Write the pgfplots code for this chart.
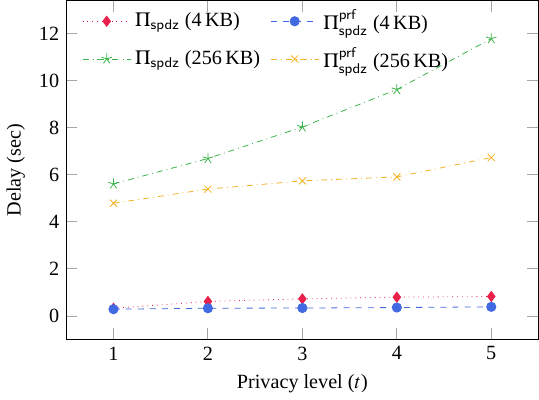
\documentclass[border=0pt]{standalone}
\usepackage{mathptmx}
\usepackage{pgfplots}
\pgfplotsset{compat=1.18}
\usepackage[no-math]{fontspec}
\setmainfont{Liberation Serif}
\setsansfont{TeX Gyre Heros}
\definecolor{cred}{HTML}{E8204A}
\definecolor{cblue}{HTML}{4169E1}
\definecolor{cgreen}{HTML}{3CB44B}
\definecolor{corange}{HTML}{F4B324}
\begin{document}
\begin{tikzpicture}
\begin{axis}[
  scale only axis,
  width=234pt, height=168pt,
  xmin=0.5, xmax=5.5, ymin=-1, ymax=13.4,
  xtick={1,2,3,4,5}, ytick={0,2,4,6,8,10,12},
  major tick length=5.5pt,
  tick style={gray!70, line width=0.5pt},
  /pgf/number format/assume math mode=true,
  xlabel={Privacy level ($t$)}, ylabel={Delay (sec)},
  legend columns=2,
  legend style={draw=none, fill=none, at={(0.02,0.997)}, anchor=north west,
    row sep=3.5pt,
    /tikz/every even column/.append style={column sep=3pt}},
  legend cell align=left,
  legend image code/.code={%
    \draw[mark repeat=2,mark phase=2,#1] plot coordinates {(0cm,0cm) (0.42cm,0cm) (0.84cm,0cm)};},
]
\addplot[cred, dotted, mark=diamond*, mark size=2.5pt, mark options={solid}]
  coordinates {(1,0.33) (2,0.62) (3,0.73) (4,0.80) (5,0.83)};
\addlegendentry{$\Pi_{\mathsf{spdz}}$\ (4\,KB)}
\addplot[cblue, dashed, mark=*, mark size=2.3pt, mark options={solid}]
  coordinates {(1,0.29) (2,0.33) (3,0.34) (4,0.36) (5,0.39)};
\addlegendentry{$\Pi^{\mathsf{prf}}_{\mathsf{spdz}}$\ (4\,KB)}
\addplot[cgreen, dash dot, mark=star, mark size=2.7pt, mark options={solid}]
  coordinates {(1,5.61) (2,6.69) (3,8.03) (4,9.62) (5,11.78)};
\addlegendentry{$\Pi_{\mathsf{spdz}}$\ (256\,KB)}
\addplot[corange, dash dot, mark=x, mark size=2.5pt, mark options={solid}]
  coordinates {(1,4.79) (2,5.39) (3,5.74) (4,5.91) (5,6.73)};
\addlegendentry{$\Pi^{\mathsf{prf}}_{\mathsf{spdz}}$\ (256\,KB)}
\end{axis}
\end{tikzpicture}
\end{document}
